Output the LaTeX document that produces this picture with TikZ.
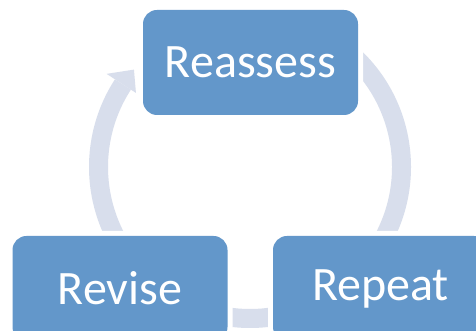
\documentclass[tikz,border=0pt]{standalone}
\usepackage{fontspec}
\setmainfont{Carlito}
\usetikzlibrary{calc}
\definecolor{boxblue}{HTML}{6397CA}
\definecolor{ringcol}{HTML}{D8DEEC}
\tikzset{
  stagebox/.style={fill=boxblue, rounded corners=14pt, minimum width=215pt, minimum height=105pt,
    inner sep=0pt, text=white, font=\fontsize{48}{57}\selectfont,
    preaction={draw=white, line width=10pt}},
  ringarc/.style={draw=ringcol, line width=19pt},
  ringhead/.style={fill=ringcol, draw=none}
}
\begin{document}
\begin{tikzpicture}[x=1pt,y=1pt]
\useasboundingbox (0,0) rectangle (476,331);
\clip (0,0) rectangle (476,331);
\fill[white] (0,0) rectangle (476,331);
\coordinate (c) at (250,164);
% ring segments
\draw[ringarc] ($(c)+(147:151.5)$) arc[start angle=147, end angle=220, radius=151.5];
\fill[ringhead] ($(c)+(147:136)$) -- ($(c)+(140:151.5)$) -- ($(c)+(147:171)$) -- cycle;
\draw[ringarc] ($(c)+(50:151.5)$) arc[start angle=50, end angle=-30, radius=151.5];
\draw[ringarc] ($(c)+(250:151.5)$) arc[start angle=250, end angle=290, radius=151.5];
% boxes
\node[stagebox] (reassess) at (250.5,268.5) {Reassess};
\node[stagebox] (revise) at (120,42.5) {Revise};
\node[stagebox] (repeat) at (380.5,42.5) {Repeat};
\end{tikzpicture}
\end{document}
